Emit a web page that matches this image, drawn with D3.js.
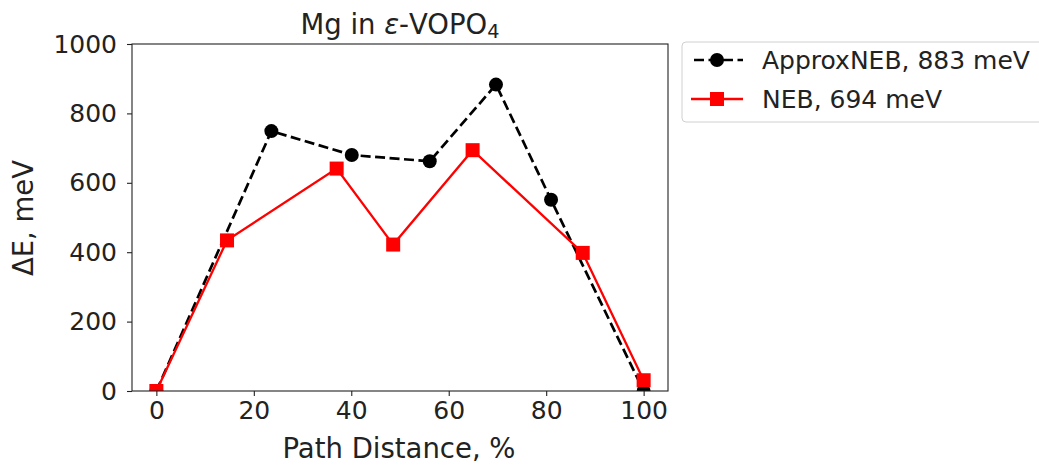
<!DOCTYPE html>
<html>
<head>
<meta charset="utf-8">
<script src="https://cdn.jsdelivr.net/npm/d3@7"></script>
<style>
  html, body { margin: 0; padding: 0; background: #fff; }
  svg { display: block; font-family: "DejaVu Sans", sans-serif; }
</style>
</head>
<body>
<svg id="chart" width="1039" height="465"></svg>
<script>
// ---- Data ----
const approxX = [0, 23.6, 40.1, 56.1, 69.7, 81.0, 100];
const approxY = [0, 749, 680, 662, 883, 551, 0];
const nebX = [0, 14.5, 37.0, 48.6, 64.9, 87.5, 100];
const nebY = [0, 434, 641, 422, 694, 398, 31];
const xTicks = [0, 20, 40, 60, 80, 100];
const yTicks = [0, 200, 400, 600, 800, 1000];
const seriesNames = ["ApproxNEB, 883 meV", "NEB, 694 meV"];

// ---- Layout ----
const svg = d3.select("#chart");
const L = 132, R = 668, T = 44, B = 391;
const x = d3.scaleLinear().domain([-5, 105]).range([L, R]);
const y = d3.scaleLinear().domain([0, 1000]).range([B, T]);
const FS = 25;     // ticks & legend
const FL = 27.5;   // title & axis labels

svg.append("rect").attr("width", 1039).attr("height", 465).attr("fill", "#fff");

svg.append("defs").append("clipPath").attr("id", "clip")
  .append("rect").attr("x", L).attr("y", T).attr("width", R - L).attr("height", B - T);

// Axes
const xAxis = d3.axisBottom(x).tickValues(xTicks).tickFormat(d3.format("d"))
  .tickSize(5).tickPadding(5).tickSizeOuter(0);
const yAxis = d3.axisLeft(y).tickValues(yTicks).tickFormat(d3.format("d"))
  .tickSize(5).tickPadding(10).tickSizeOuter(0);

const gx = svg.append("g").attr("transform", `translate(0,${B})`).call(xAxis);
const gy = svg.append("g").attr("transform", `translate(${L},0)`).call(yAxis);
[gx, gy].forEach(g => {
  g.select(".domain").remove();
  g.selectAll(".tick line").attr("stroke", "#222").attr("stroke-width", 1.1);
  g.selectAll(".tick text").attr("font-size", FS).attr("fill", "#222")
    .attr("font-family", "DejaVu Sans");
});
gx.selectAll(".tick text").attr("dy", "0.71em");

// Series
const g = svg.append("g").attr("clip-path", "url(#clip)");
const approx = approxX.map((v, i) => [v, approxY[i]]);
const neb = nebX.map((v, i) => [v, nebY[i]]);
const line = d3.line().x(d => x(d[0])).y(d => y(d[1]));

g.append("path").datum(approx).attr("d", line).attr("fill", "none")
  .attr("stroke", "#000").attr("stroke-width", 2.7).attr("stroke-dasharray", "10,4.5");
g.selectAll("circle.a").data(approx).enter().append("circle")
  .attr("cx", d => x(d[0])).attr("cy", d => y(d[1])).attr("r", 7).attr("fill", "#000");

g.append("path").datum(neb).attr("d", line).attr("fill", "none")
  .attr("stroke", "#ff0000").attr("stroke-width", 2.3);
g.selectAll("rect.n").data(neb).enter().append("rect")
  .attr("x", d => x(d[0]) - 7).attr("y", d => y(d[1]) - 7)
  .attr("width", 14).attr("height", 14).attr("fill", "#ff0000");

// Frame
svg.append("rect").attr("x", L).attr("y", T).attr("width", R - L).attr("height", B - T)
  .attr("fill", "none").attr("stroke", "#222").attr("stroke-width", 1.1);

// Title
const title = svg.append("text").attr("x", 400).attr("y", 33.5).attr("text-anchor", "middle")
  .attr("font-size", FL).attr("fill", "#222");
title.append("tspan").text("Mg in ");
title.append("tspan").attr("font-style", "italic").text("ε");
title.append("tspan").text("-VOPO");
title.append("tspan").attr("font-size", FL * 0.7).attr("dy", 4).text("4");

// Axis labels
svg.append("text").attr("x", 399).attr("y", 458).attr("text-anchor", "middle")
  .attr("font-size", FL).attr("fill", "#222").text("Path Distance, %");
svg.append("text").attr("transform", "translate(33,218) rotate(-90)").attr("text-anchor", "middle")
  .attr("font-size", FL).attr("fill", "#222").text("ΔE, meV");

// Legend
const lg = svg.append("g");
lg.append("rect").attr("x", 682).attr("y", 42).attr("width", 400).attr("height", 80)
  .attr("rx", 4).attr("fill", "#fff").attr("stroke", "#d0d0d0").attr("stroke-width", 1);
const rows = [60, 99];
// ApproxNEB
lg.append("line").attr("x1", 691).attr("x2", 743).attr("y1", rows[0]).attr("y2", rows[0])
  .attr("stroke", "#000").attr("stroke-width", 2.7).attr("stroke-dasharray", "10,4.5")
  .attr("stroke-dashoffset", -3);
lg.append("circle").attr("cx", 717).attr("cy", rows[0]).attr("r", 7).attr("fill", "#000");
// NEB
lg.append("line").attr("x1", 691).attr("x2", 743).attr("y1", rows[1]).attr("y2", rows[1])
  .attr("stroke", "#ff0000").attr("stroke-width", 2.3);
lg.append("rect").attr("x", 710).attr("y", rows[1] - 7).attr("width", 14).attr("height", 14)
  .attr("fill", "#ff0000");
seriesNames.forEach((s, i) => {
  lg.append("text").attr("x", 762).attr("y", rows[i]).attr("dy", "0.36em")
    .attr("font-size", FS).attr("fill", "#222").text(s);
});
</script>
</body>
</html>
